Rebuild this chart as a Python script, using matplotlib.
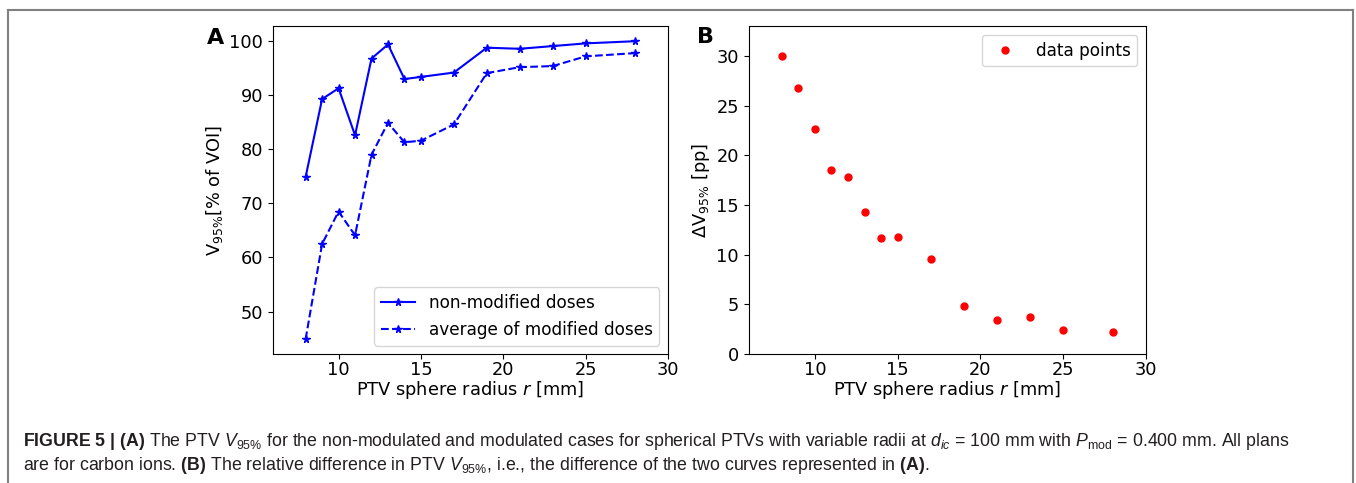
import numpy as np
import matplotlib
matplotlib.use("Agg")
import matplotlib.pyplot as plt
from matplotlib.lines import Line2D

radius = [8, 9, 10, 11, 12, 13, 14, 15, 17, 19, 21, 23, 25, 28]
v95_plain = [74.9, 89.3, 91.3, 82.6, 96.8, 99.4, 93.0, 93.4, 94.2, 98.8, 98.6, 99.1, 99.6, 100.0]
v95_mod = [44.9, 62.5, 68.5, 64.1, 79.0, 84.9, 81.3, 81.6, 84.6, 94.1, 95.2, 95.4, 97.2, 97.8]
delta_v95 = [30.0, 26.8, 22.7, 18.5, 17.8, 14.3, 11.7, 11.8, 9.6, 4.8, 3.4, 3.7, 2.4, 2.2]

plt.rcParams['font.family'] = ['DejaVu Sans']
plt.rcParams['mathtext.rm'] = 'Liberation Sans'
plt.rcParams['mathtext.it'] = 'Liberation Sans:italic'
plt.rcParams['mathtext.bf'] = 'Liberation Sans:bold'

fs = 12.8

fig = plt.figure(figsize=(13.56, 4.83), dpi=100)

axA = fig.add_axes([0.2011, 0.2671, 0.2915, 0.6784])
axA.plot(radius, v95_plain, 'b*-', markersize=5.5, label='non-modified doses')
axA.plot(radius, v95_mod, 'b*--', markersize=5.5, label='average of modified doses')
axA.set_xlim(6, 30)
axA.set_xticks([10, 15, 20, 25, 30])
axA.set_xlabel('PTV sphere radius $r$ [mm]', fontsize=fs, labelpad=0)
axA.set_ylabel(r'$\mathregular{V_{95\%}}$[% of VOI]', fontsize=fs, labelpad=3)
axA.tick_params(labelsize=fs)
axA.tick_params(axis='x', pad=1.5)
axA.legend(loc='lower right', fontsize=fs - 0.6)
fig.text(0.1527, 0.922, 'A', fontsize=16, fontweight='bold', va='center')

axB = fig.add_axes([0.5521, 0.2671, 0.2930, 0.6784])
axB.plot(radius, delta_v95, 'ro', markersize=5, label='data points')
axB.set_xlim(6, 30)
axB.set_ylim(0, 33)
axB.set_xticks([10, 15, 20, 25, 30])
axB.set_xlabel('PTV sphere radius $r$ [mm]', fontsize=fs, labelpad=0)
axB.set_ylabel(r'$\Delta\mathregular{V_{95\%}}$ [pp]', fontsize=fs, labelpad=3)
axB.tick_params(labelsize=fs)
axB.tick_params(axis='x', pad=1.5)
axB.legend(loc='upper right', fontsize=fs - 0.6)
fig.text(0.5140, 0.924, 'B', fontsize=16, fontweight='bold', va='center')

# page frame
frame = '#808080'
fig.add_artist(Line2D([8/1356, 1353/1356], [1 - 10/483, 1 - 10/483], color=frame, lw=1.5))
fig.add_artist(Line2D([8/1356, 8/1356], [0, 1 - 10/483], color=frame, lw=1.5))
fig.add_artist(Line2D([1353/1356, 1353/1356], [0, 1 - 10/483], color=frame, lw=1.5))

# caption
line1 = (r'$\mathbf{FIGURE\ 5\ |\ (A)}$ The PTV $V_{\mathrm{95\%}}$ for the non-modulated and modulated '
         r'cases for spherical PTVs with variable radii at $d_{ic}$ = 100 mm with $P_{\mathrm{mod}}$ = 0.400 mm. All plans')
line2 = (r'are for carbon ions. $\mathbf{(B)}$ The relative difference in PTV $V_{\mathrm{95\%}}$, i.e., the difference '
         r'of the two curves represented in $\mathbf{(A)}$.')
for y, txt in [(441, line1), (466, line2)]:
    fig.text(23/1356, 1 - y/483, txt, fontsize=12.8, family='Liberation Sans',
             math_fontfamily='custom', color='#231f20', va='center')

fig.savefig('out.png', dpi=100)
